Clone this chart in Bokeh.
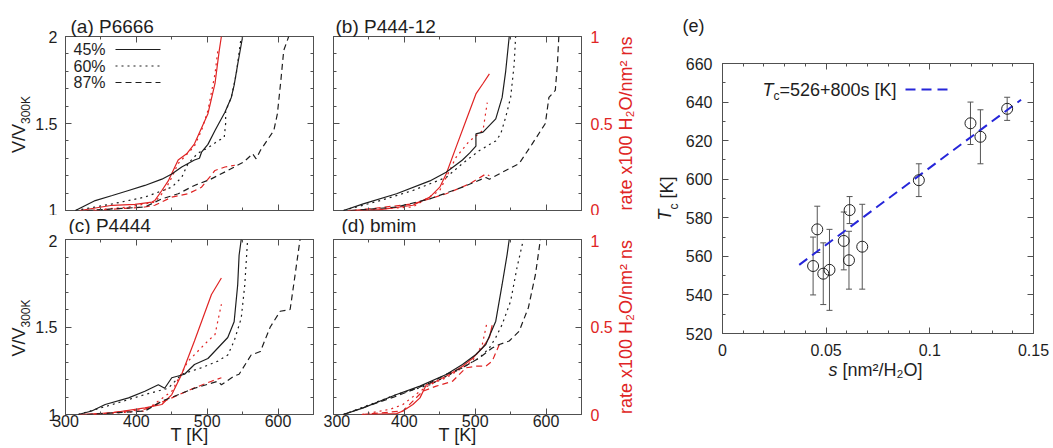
import math
from bokeh.plotting import figure
from bokeh.models import (Range1d, LinearAxis, FixedTicker, Label, Arrow,
                          Whisker, TeeHead, ColumnDataSource, CustomJSTickFormatter)
from bokeh.layouts import row, column
from bokeh.embed import file_html
from bokeh.resources import INLINE

# ---------------- data ----------------
T_ticks = [300, 400, 500, 600]
T_tick_labels = ["300", "400", "500", "600"]
V_ticks = [1, 1.5, 2]
V_tick_labels = ["1", "1.5", "2"]
rate_ticks = [0, 0.5, 1]
rate_tick_labels = ["0", "0.5", "1"]
s_ticks = [0, 0.05, 0.1, 0.15]
s_tick_labels = ["0", "0.05", "0.1", "0.15"]
Tc_ticks = [520, 540, 560, 580, 600, 620, 640, 660]
Tc_tick_labels = ["520", "540", "560", "580", "600", "620", "640", "660"]
series_names = ["45%", "60%", "87%"]
panel_titles = ["(a) P6666", "(b) P444-12", "(c) P4444", "(d) bmim", "(e)"]

# (a) P6666
a_T45 = [314, 342, 366, 389, 412, 436, 450, 464, 482, 489, 492, 501, 511, 515, 525, 534, 538, 543, 550]
a_V45 = [1.0, 1.057, 1.086, 1.115, 1.144, 1.18, 1.21, 1.25, 1.29, 1.30, 1.335, 1.38, 1.46, 1.49, 1.565, 1.65, 1.72, 1.84, 2.0]
a_T60 = [314, 366, 412, 450, 464, 473, 487, 501, 515, 524, 526, 526, 534, 541, 548]
a_V60 = [1.0, 1.038, 1.077, 1.134, 1.19, 1.27, 1.33, 1.36, 1.40, 1.42, 1.50, 1.57, 1.65, 1.785, 2.0]
a_T87 = [330, 412, 436, 459, 482, 505, 529, 552, 564, 569, 575, 594, 599, 604, 608, 615]
a_V87 = [1.0, 1.02, 1.067, 1.096, 1.144, 1.18, 1.23, 1.28, 1.326, 1.297, 1.345, 1.46, 1.555, 1.75, 1.92, 2.0]
a_Tr45 = [320, 366, 398, 422, 426, 436, 445, 452, 459, 471, 482, 501, 511, 517, 520]
a_r45 = [0.0, 0.03, 0.035, 0.048, 0.057, 0.115, 0.17, 0.23, 0.29, 0.326, 0.383, 0.556, 0.73, 0.92, 1.0]
a_Tr60 = [330, 389, 426, 440, 450, 459, 473, 482, 492, 501, 511, 515]
a_r60 = [0.0, 0.02, 0.048, 0.115, 0.19, 0.27, 0.33, 0.37, 0.46, 0.575, 0.785, 0.92]
a_Tr87 = [340, 412, 426, 450, 473, 492, 511, 525, 539]
a_r87 = [0.0, 0.02, 0.03, 0.077, 0.096, 0.134, 0.23, 0.25, 0.26]

# (b) P444-12
b_T45 = [314, 342, 389, 436, 459, 482, 492, 501, 501, 511, 529, 538, 543, 548]
b_V45 = [1.0, 1.038, 1.096, 1.17, 1.22, 1.29, 1.33, 1.37, 1.44, 1.45, 1.527, 1.65, 1.80, 2.0]
b_T60 = [314, 366, 412, 459, 482, 506, 529, 536, 543, 550, 555, 557]
b_V60 = [1.0, 1.057, 1.115, 1.19, 1.27, 1.345, 1.40, 1.44, 1.536, 1.65, 1.84, 2.0]
b_T87 = [324, 389, 436, 482, 515, 520, 543, 562, 580, 599, 604, 613, 616, 618]
b_V87 = [1.0, 1.02, 1.067, 1.134, 1.19, 1.18, 1.23, 1.27, 1.38, 1.50, 1.65, 1.69, 1.84, 2.0]
b_Tr45 = [320, 366, 412, 436, 450, 459, 473, 487, 501, 511, 520]
b_r45 = [0.0, 0.005, 0.03, 0.077, 0.134, 0.21, 0.364, 0.517, 0.67, 0.73, 0.785]
b_Tr60 = [330, 412, 450, 473, 492, 511, 517]
b_r60 = [0.0, 0.02, 0.115, 0.306, 0.40, 0.46, 0.62]
b_Tr87 = [330, 412, 459, 492, 515, 520]
b_r87 = [0.0, 0.038, 0.096, 0.153, 0.21, 0.20]

# (c) P4444
c_T45 = [318, 337, 356, 389, 412, 431, 440, 450, 468, 482, 501, 515, 529, 538, 543, 545, 548]
c_V45 = [1.0, 1.02, 1.057, 1.095, 1.133, 1.17, 1.15, 1.21, 1.23, 1.286, 1.32, 1.38, 1.44, 1.53, 1.74, 1.91, 2.0]
c_T60 = [318, 366, 412, 445, 464, 492, 515, 529, 538, 548, 553, 557]
c_V60 = [1.0, 1.057, 1.114, 1.15, 1.23, 1.267, 1.305, 1.34, 1.42, 1.55, 1.74, 2.0]
c_T87 = [330, 412, 436, 482, 515, 520, 538, 545, 562, 575, 589, 603, 617, 622, 631]
c_V87 = [1.0, 1.02, 1.076, 1.15, 1.19, 1.17, 1.22, 1.23, 1.34, 1.36, 1.50, 1.59, 1.60, 1.74, 2.0]
c_Tr45 = [318, 366, 412, 436, 450, 464, 482, 506, 520]
c_r45 = [0.0, 0.01, 0.038, 0.057, 0.114, 0.23, 0.42, 0.686, 0.78]
c_Tr60 = [340, 412, 450, 473, 501, 511, 520]
c_r60 = [0.0, 0.02, 0.133, 0.305, 0.42, 0.457, 0.63]
c_Tr87 = [340, 412, 450, 482, 506, 520]
c_r87 = [0.0, 0.03, 0.095, 0.152, 0.19, 0.21]

# (d) bmim
d_T45 = [314, 342, 389, 422, 459, 482, 501, 515, 529, 538, 545, 548]
d_V45 = [1.0, 1.038, 1.114, 1.162, 1.229, 1.286, 1.343, 1.40, 1.533, 1.743, 1.914, 2.0]
d_T60 = [314, 389, 436, 482, 506, 520, 529, 538, 550, 559, 568]
d_V60 = [1.0, 1.114, 1.17, 1.267, 1.324, 1.38, 1.44, 1.514, 1.648, 1.84, 2.0]
d_T87 = [314, 389, 436, 459, 482, 506, 524, 534, 548, 562, 575, 585, 592]
d_V87 = [1.0, 1.105, 1.18, 1.229, 1.267, 1.324, 1.38, 1.40, 1.42, 1.476, 1.61, 1.80, 2.0]
d_Tr45 = [340, 389, 398, 412, 422, 431, 445, 464, 482, 496, 510, 520, 524]
d_r45 = [0.0, 0.005, 0.02, 0.057, 0.095, 0.17, 0.19, 0.23, 0.276, 0.32, 0.38, 0.44, 0.51]
d_Tr60 = [340, 380, 398, 422, 436, 459, 482, 496, 510, 517]
d_r60 = [0.0, 0.03, 0.057, 0.133, 0.17, 0.21, 0.267, 0.305, 0.40, 0.533]
d_Tr87 = [340, 398, 426, 445, 468, 487, 501, 515, 524, 534]
d_r87 = [0.0, 0.02, 0.133, 0.162, 0.19, 0.267, 0.276, 0.276, 0.305, 0.40]

# (e) Tc vs s
s_vals = [0.0437, 0.0457, 0.0486, 0.0516, 0.0585, 0.0613, 0.0610, 0.0674, 0.0947, 0.1196, 0.1244, 0.1373]
Tc_vals = [555, 574, 551, 553, 568, 584, 558, 565, 599.5, 629, 622, 636.5]
Tc_err = [15, 12, 16, 21, 15, 7, 15, 22, 8.5, 11, 14, 6]
fit_intercept = 526
fit_slope = 800
fit_s = [0.037, 0.144]

# ---------------- style ----------------
FONT = "Liberation Sans"
INK = "#1e1e1e"
FRAME = "#505050"
RED = "#e02424"
BLUE = "#2626d9"
DOT = "2 4"
DASH = "6 4"


def tick_formatter(major, labels):
    return CustomJSTickFormatter(args=dict(tk=major, lb=labels), code="""
        for (let i = 0; i < tk.length; i++) {
            if (Math.abs(tk[i] - tick) < 1e-9) { return lb[i]; }
        }
        return '';
    """)


def add_axis(p, side, major, minor, labels=None, range_name=None, color=INK, standoff=8):
    kw = {}
    if range_name:
        kw["y_range_name"] = range_name
    ax = LinearAxis(ticker=FixedTicker(ticks=major, minor_ticks=minor), **kw)
    ax.axis_line_color = None
    ax.major_tick_in = 6
    ax.major_tick_out = 0
    ax.minor_tick_in = 3
    ax.minor_tick_out = 0
    ax.major_tick_line_color = FRAME
    ax.minor_tick_line_color = FRAME
    if labels:
        ax.formatter = tick_formatter(major, labels)
        ax.major_label_text_font = FONT
        ax.major_label_text_font_size = "16px"
        ax.major_label_text_color = color
        ax.major_label_standoff = standoff
    else:
        ax.formatter = CustomJSTickFormatter(code="return ''")
        ax.major_label_text_font_size = "0px"
        ax.major_label_standoff = 0
    p.add_layout(ax, side)
    return ax


def put(p, g, ax, ay, text, size=18, color=INK, angle=0.0, align="left",
        baseline="middle", style="normal"):
    p.add_layout(Label(x=ax - g[0], y=g[1] - ay, x_units="screen", y_units="screen",
                       text=text, text_font=FONT, text_font_size=f"{size}px",
                       text_color=color, angle=angle, text_align=align,
                       text_baseline=baseline, text_font_style=style))


def seg(p, g, x0, y0, x1, y1, color=INK, width=1.2, dash="solid"):
    p.add_layout(Arrow(end=None, x_start=x0 - g[0], y_start=g[1] - y0,
                       x_end=x1 - g[0], y_end=g[1] - y1,
                       start_units="screen", end_units="screen",
                       line_color=color, line_width=width, line_dash=dash))


def base_fig(width, height, left, right, top, bottom, xr, yr, title=None,
             title_offset=0, title_standoff=0, title_size=19):
    p = figure(width=width, height=height, x_range=Range1d(*xr), y_range=Range1d(*yr),
               output_backend="svg", toolbar_location=None, title=title,
               x_axis_location=None, y_axis_location=None,
               min_border_left=left, min_border_right=right,
               min_border_top=top, min_border_bottom=bottom)
    p.xgrid.visible = False
    p.ygrid.visible = False
    p.background_fill_color = "white"
    p.border_fill_color = "white"
    p.outline_line_color = FRAME
    p.outline_line_width = 1
    if title:
        p.title.text_font = FONT
        p.title.text_font_size = f"{title_size}px"
        p.title.text_font_style = "normal"
        p.title.text_color = INK
        p.title.align = "left"
        p.title.offset = title_offset
        p.title.standoff = title_standoff
    return p


def text_strip(width, height, abs_left, abs_bottom, aligned_left=None):
    """A blank figure used only to hold texts; returns it and its frame origin."""
    p = figure(width=width, height=height, x_range=Range1d(0, 1), y_range=Range1d(0, 1),
               output_backend="svg", toolbar_location=None, title=None,
               x_axis_location=None, y_axis_location=None, min_border=0)
    p.xgrid.visible = False
    p.ygrid.visible = False
    p.outline_line_color = None
    p.background_fill_color = "white"
    p.border_fill_color = "white"
    free = True
    try:
        p.frame_align = False
    except Exception:
        free = False
    left = abs_left if (free or aligned_left is None) else aligned_left
    return p, (left, abs_bottom)


T_minor = list(range(300, 651, 50))
V_minor = [1 + i / 10 for i in range(11)]
rate_minor = [i / 10 for i in range(11)]


def curve_panel(width, height, left, right, top, bottom, show_left, show_right, show_bottom,
                d, title=None, title_offset=0, title_standoff=0):
    p = base_fig(width, height, left, right, top, bottom, (300, 650), (1, 2),
                 title=title, title_offset=title_offset, title_standoff=title_standoff)
    p.extra_y_ranges = {"rate": Range1d(0, 1)}
    bx = add_axis(p, "below", T_ticks, T_minor, T_tick_labels if show_bottom else None, standoff=0)
    if show_bottom:
        bx.axis_label = "T [K]"
        bx.axis_label_text_font = FONT
        bx.axis_label_text_font_size = "18px"
        bx.axis_label_text_font_style = "normal"
        bx.axis_label_text_color = INK
        bx.axis_label_standoff = -5
    add_axis(p, "above", T_ticks, T_minor, None)
    add_axis(p, "left", V_ticks, V_minor, V_tick_labels if show_left else None, standoff=8)
    add_axis(p, "right", rate_ticks, rate_minor, rate_tick_labels if show_right else None,
             range_name="rate", color=RED, standoff=9)
    T45, V45, T60, V60, T87, V87, Tr45, r45, Tr60, r60, Tr87, r87 = d
    p.line(Tr45, r45, line_color=RED, line_width=1.2, y_range_name="rate")
    p.line(Tr60, r60, line_color=RED, line_width=1.2, line_dash=DOT, y_range_name="rate")
    p.line(Tr87, r87, line_color=RED, line_width=1.2, line_dash=DASH, y_range_name="rate")
    p.line(T45, V45, line_color=INK, line_width=1.2)
    p.line(T60, V60, line_color=INK, line_width=1.2, line_dash=DOT)
    p.line(T87, V87, line_color=INK, line_width=1.2, line_dash=DASH)
    return p


# ---------------- panels ----------------
pa = curve_panel(291, 215, 31, 10, 36, 5, True, False, False,
                 (a_T45, a_V45, a_T60, a_V60, a_T87, a_V87, a_Tr45, a_r45, a_Tr60, a_r60, a_Tr87, a_r87),
                 panel_titles[0], 5, 0)
pb = curve_panel(292, 215, 10, 32, 36, 5, False, True, False,
                 (b_T45, b_V45, b_T60, b_V60, b_T87, b_V87, b_Tr45, b_r45, b_Tr60, b_r60, b_Tr87, b_r87),
                 panel_titles[1], 2, 0)
pc = curve_panel(291, 214, 31, 10, 5, 34, True, False, True,
                 (c_T45, c_V45, c_T60, c_V60, c_T87, c_V87, c_Tr45, c_r45, c_Tr60, c_r60, c_Tr87, c_r87))
pd = curve_panel(292, 214, 10, 32, 5, 34, False, True, True,
                 (d_T45, d_V45, d_T60, d_V60, d_T87, d_V87, d_Tr45, d_r45, d_Tr60, d_r60, d_Tr87, d_r87))

# strips holding the titles of (c) and (d)
stripC, gC = text_strip(291, 19, 32, 234, aligned_left=63)
put(stripC, gC, 68, 225, panel_titles[2], size=19)
stripD, gD = text_strip(292, 19, 323, 234, aligned_left=333)
put(stripD, gD, 341, 225, panel_titles[3], size=19)

ga = (63, 210)
# legend of panel (a): text then line sample
for name, y, dash in zip(series_names, (49, 65.5, 82), ("solid", DOT, DASH)):
    put(pa, ga, 103, y, name, size=16, align="right")
    seg(pa, ga, 113, y, 158, y, color=INK, width=1.2, dash=dash)

# left text strip: V/V300K labels
stripL, gL = text_strip(32, 448, 0, 448)
for cy in (123, 326.5):
    put(stripL, gL, 18.5, cy + 29.5, "V/V", size=18, angle=math.pi / 2)
    put(stripL, gL, 25, cy + 0.5, "300K", size=12, angle=math.pi / 2)

# right text strip: rate labels and Tc label of (e)
stripR, gR = text_strip(65, 448, 615, 448)
for cy in (123, 326.5):
    put(stripR, gR, 625, cy, "rate x100 H₂O/nm² ns", size=18, color=RED, angle=math.pi / 2,
        align="center")
put(stripR, gR, 664.5, 220, "T", size=18, angle=math.pi / 2, style="italic")
put(stripR, gR, 673.4, 209, "c", size=12, angle=math.pi / 2)
put(stripR, gR, 666, 198, "[K]", size=18, angle=math.pi / 2)

# strip above (e) with its panel letter
stripE, gE = text_strip(373, 45, 680, 45, aligned_left=722)
put(stripE, gE, 682, 25, panel_titles[4], size=18)

# (e)
pe = base_fig(373, 314, 42, 20, 18, 26, (0, 0.15), (520, 660))
add_axis(pe, "below", s_ticks, [i / 100 for i in range(16)], s_tick_labels, standoff=10)
add_axis(pe, "above", s_ticks, [i / 100 for i in range(16)], None)
add_axis(pe, "left", Tc_ticks, list(range(520, 661, 10)), Tc_tick_labels, standoff=10)
add_axis(pe, "right", Tc_ticks, list(range(520, 661, 10)), None)

fit_T = [fit_intercept + fit_slope * s for s in fit_s]
pe.line(fit_s, fit_T, line_color=BLUE, line_width=2, line_dash="10 6")

src = ColumnDataSource(dict(s=s_vals, Tc=Tc_vals,
                            lo=[t - e for t, e in zip(Tc_vals, Tc_err)],
                            hi=[t + e for t, e in zip(Tc_vals, Tc_err)]))
pe.add_layout(Whisker(source=src, base="s", lower="lo", upper="hi",
                      line_color="#555555", line_width=1,
                      upper_head=TeeHead(size=6, line_color="#555555", line_width=1),
                      lower_head=TeeHead(size=6, line_color="#555555", line_width=1)))
pe.scatter("s", "Tc", source=src, marker="circle", size=11, fill_color=None,
           line_color="#222222", line_width=1)

ge = (722, 333)
put(pe, ge, 762, 89, "T", size=18, style="italic")
put(pe, ge, 773, 95, "c", size=12)
put(pe, ge, 779, 89, "=526+800s [K]", size=18)
seg(pe, ge, 905, 89, 953, 89, color=BLUE, width=2, dash="10 6")

# strip under (e): x axis title
stripB, gB = text_strip(373, 89, 680, 448, aligned_left=722)
put(stripB, gB, 828, 369, "s", size=18, style="italic")
put(stripB, gB, 842, 369, "[nm²/H₂O]", size=18)

layout = row(stripL, column(pa, stripC, pc), column(pb, stripD, pd), stripR,
             column(stripE, pe, stripB))
open("out.html", "w").write(file_html(layout, INLINE))
